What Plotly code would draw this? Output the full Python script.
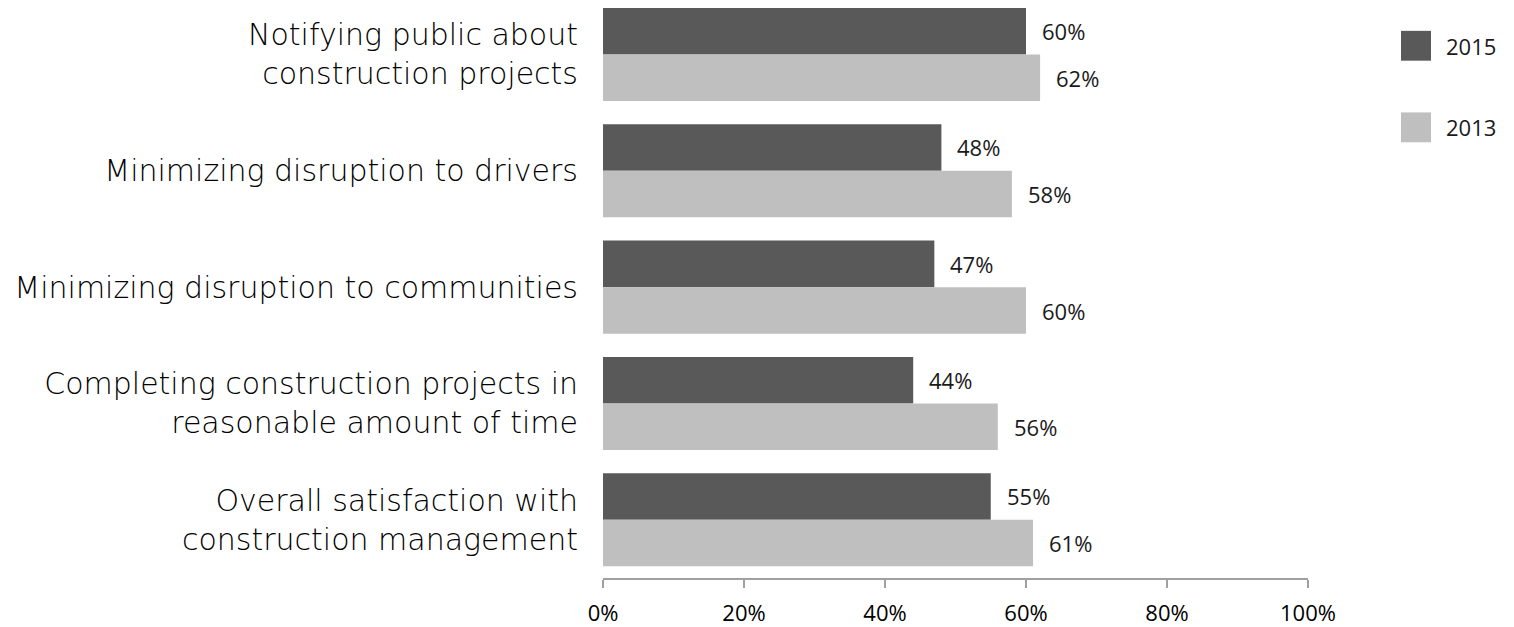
import plotly.graph_objects as go

# Survey items (top to bottom) and satisfaction shares
categories = [
    "Notifying public about<br>construction projects",
    "Minimizing disruption to drivers",
    "Minimizing disruption to communities",
    "Completing construction projects in<br>reasonable amount of time",
    "Overall satisfaction with<br>construction management",
]
series_names = ["2015", "2013"]
values_2015 = [0.60, 0.48, 0.47, 0.44, 0.55]
values_2013 = [0.62, 0.58, 0.60, 0.56, 0.61]
x_ticks = [0, 0.2, 0.4, 0.6, 0.8, 1.0]
x_tick_labels = ["0%", "20%", "40%", "60%", "80%", "100%"]

colors = ["#595959", "#BFBFBF"]
series_values = [values_2015, values_2013]

W, H = 1514, 627
M_L, M_R, M_T, M_B = 603, 206, 0, 46
plot_w = W - M_L - M_R
plot_h = H - M_T - M_B

LABEL_FONT = "DejaVu Sans"
NUM_FONT = "Open Sans"

fig = go.Figure()
for name, vals, col in zip(series_names, series_values, colors):
    fig.add_trace(go.Bar(
        y=categories, x=vals, name=name, orientation="h",
        marker=dict(color=col, line=dict(width=0)),
        showlegend=False, hoverinfo="skip",
    ))

# value labels to the right of each bar
cat_px = plot_h / (4.5 + 0.468)
bar_off = 0.2 * cat_px
for vals, shift in zip(series_values, [bar_off, -bar_off]):
    for c, v in zip(categories, vals):
        fig.add_annotation(
            x=v, y=c, xref="x", yref="y", text=f"{round(v * 100)}%",
            showarrow=False, xanchor="left", yanchor="middle",
            xshift=14, yshift=shift,
            font=dict(family=NUM_FONT, size=22, color="#1A1A1A"),
        )

# legend: large swatches with labels on the right
legend_tops = [31, 113]
for name, col, top in zip(series_names, colors, legend_tops):
    x0 = (1401 - M_L) / plot_w
    x1 = (1431 - M_L) / plot_w
    y0 = 1 - (top - M_T) / plot_h
    y1 = 1 - (top + 30 - M_T) / plot_h
    fig.add_shape(type="rect", xref="paper", yref="paper",
                  x0=x0, x1=x1, y0=y1, y1=y0,
                  fillcolor=col, line=dict(width=0))
    fig.add_annotation(
        x=(1444 - M_L) / plot_w, y=1 - (top + 15 - M_T) / plot_h,
        xref="paper", yref="paper", text=name, showarrow=False,
        xanchor="left", yanchor="middle",
        font=dict(family=NUM_FONT, size=22, color="#1A1A1A"),
    )

fig.update_layout(
    width=W, height=H,
    margin=dict(l=M_L, r=M_R, t=M_T, b=M_B, pad=0),
    paper_bgcolor="white", plot_bgcolor="white",
    barmode="group", bargap=0.2, bargroupgap=0,
    showlegend=False,
    xaxis=dict(
        range=[0, 1], tickvals=x_ticks, ticktext=x_tick_labels,
        showgrid=False, zeroline=False,
        showline=True, linecolor="#A0A0A0", linewidth=1.5,
        ticks="outside", ticklen=8, tickwidth=1.5, tickcolor="#A0A0A0",
        tickfont=dict(family=NUM_FONT, size=22, color="#000000"),
        ticklabelstandoff=7,
    ),
    yaxis=dict(
        categoryorder="array", categoryarray=categories,
        range=[4.5, -0.468],
        showgrid=False, zeroline=False, showline=False,
        ticks="", ticklabelstandoff=24,
        tickfont=dict(family=LABEL_FONT, size=30, color="#000000",
                      weight=200),
    ),
)

fig.write_html("out.html")
